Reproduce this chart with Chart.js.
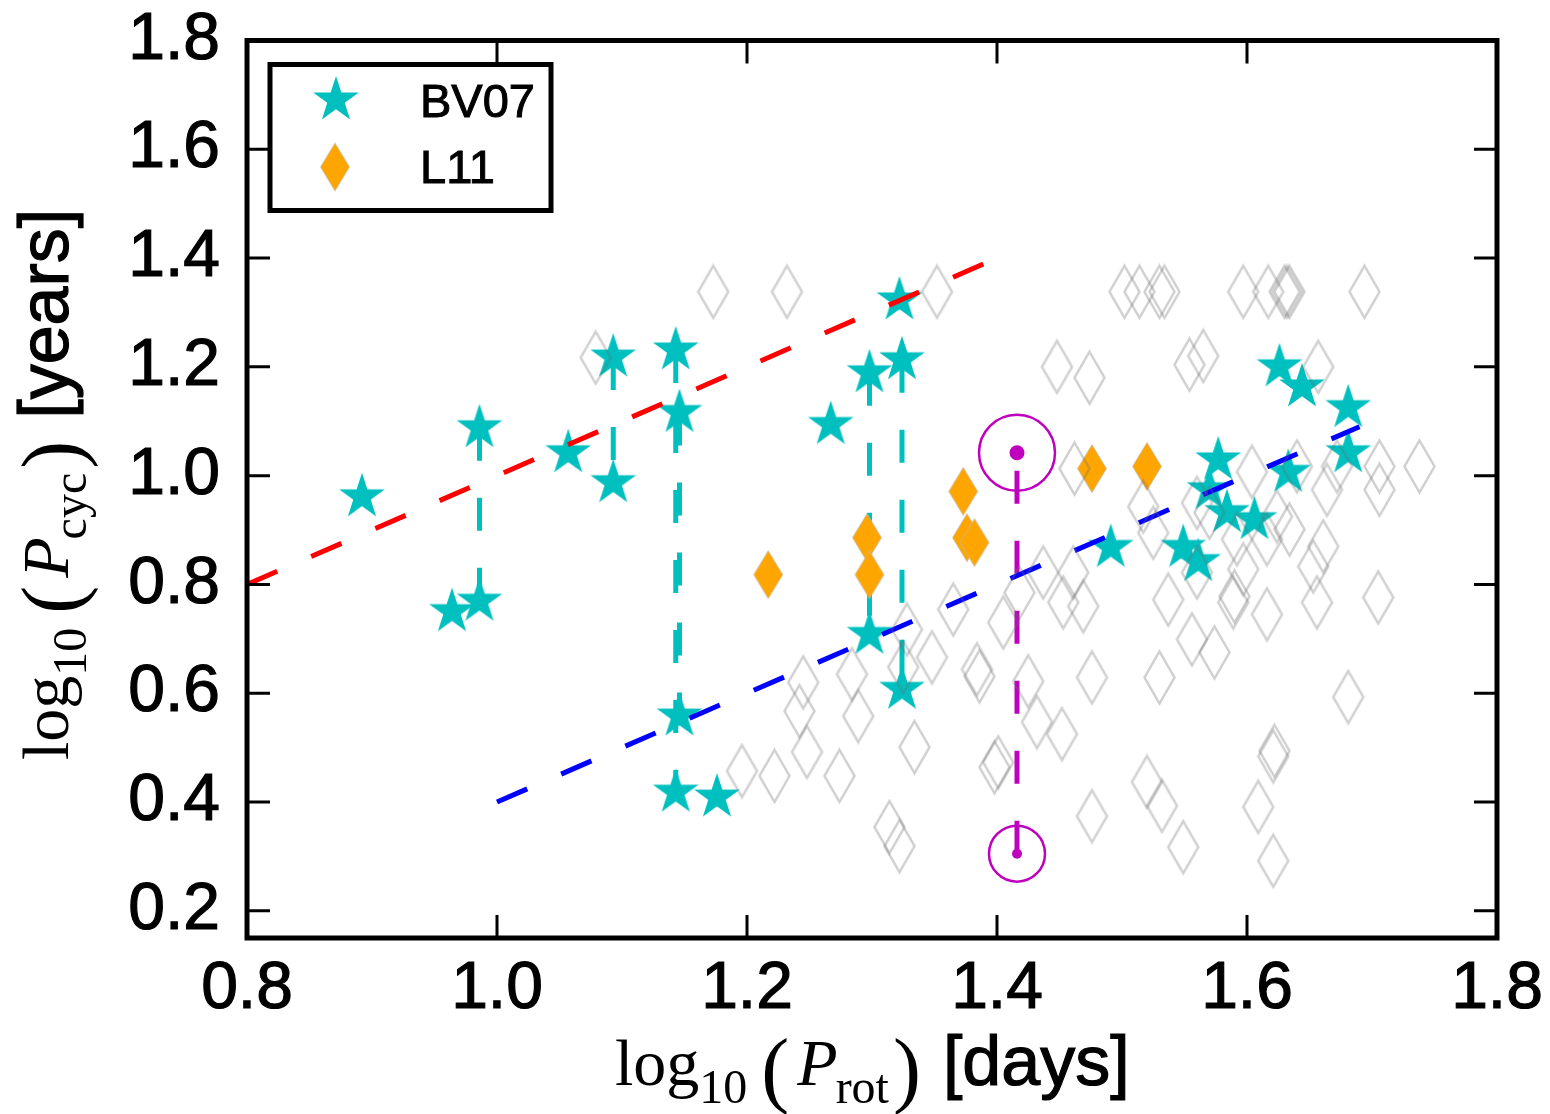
<!DOCTYPE html>
<html>
<head>
<meta charset="utf-8">
<script src="https://cdn.jsdelivr.net/npm/chart.js@4.4.1/dist/chart.umd.min.js"></script>
<style>
html, body { margin: 0; padding: 0; background: #fff; }
#wrap { width: 1550px; height: 1114px; }
</style>
</head>
<body>
<div id="wrap"><canvas id="chart" width="1550" height="1114"></canvas></div>
<script>
// ticks
const xTickValues = [0.8, 1.0, 1.2, 1.4, 1.6, 1.8];
const xTickLabels = ['0.8', '1.0', '1.2', '1.4', '1.6', '1.8'];
const yTickValues = [0.2, 0.4, 0.6, 0.8, 1.0, 1.2, 1.4, 1.6, 1.8];
const yTickLabels = ['0.2', '0.4', '0.6', '0.8', '1.0', '1.2', '1.4', '1.6', '1.8'];
const legendLabels = ['BV07', 'L11'];

// BV07 stars
const bv07X = [0.892, 0.986, 0.964, 0.986, 1.057, 1.093, 1.093, 1.143, 1.146, 1.146,
               1.143, 1.176, 1.267, 1.298, 1.324, 1.322, 1.298, 1.324, 1.491, 1.549,
               1.561, 1.577, 1.570, 1.584, 1.606, 1.626, 1.644, 1.681, 1.681, 1.633];
const bv07Y = [0.961, 1.088, 0.750, 0.769, 1.042, 1.218, 0.987, 1.231, 1.116, 0.558,
               0.418, 0.409, 1.094, 1.189, 1.213, 1.323, 0.708, 0.607, 0.868, 0.868,
               0.842, 1.029, 0.974, 0.932, 0.919, 1.200, 1.163, 1.125, 1.042, 1.006];

// stars with two cycles, joined by dashed lines
const pairX      = [0.986, 1.093, 1.143, 1.146, 1.298, 1.324];
const pairTop    = [1.088, 1.218, 1.231, 1.116, 1.189, 1.213];
const pairBottom = [0.769, 0.987, 0.418, 0.558, 0.708, 0.607];

// L11 diamonds
const l11X = [1.217, 1.296, 1.298, 1.373, 1.376, 1.382, 1.476, 1.520];
const l11Y = [0.818, 0.886, 0.818, 0.971, 0.886, 0.877, 1.013, 1.017];

// background sample (open grey diamonds)
const grayX = [1.173, 1.232, 1.352, 1.502, 1.514, 1.530, 1.534, 1.597, 1.617, 1.630, 1.632, 1.634, 1.694,
               1.079, 1.448, 1.474, 1.554, 1.565, 1.657,
               1.462, 1.604, 1.640, 1.672, 1.706, 1.738, 1.664, 1.706,
               1.517, 1.525, 1.560, 1.570, 1.592, 1.616, 1.634, 1.661, 1.653, 1.597, 1.560, 1.624,
               1.365, 1.418, 1.405, 1.437, 1.461, 1.453, 1.469, 1.537, 1.590, 1.589, 1.616, 1.656, 1.705, 1.556, 1.574,
               1.384, 1.386, 1.425, 1.476, 1.530, 1.681, 1.348,
               1.432, 1.452, 1.398, 1.401, 1.476, 1.520, 1.532, 1.549, 1.622, 1.621, 1.609, 1.621,
               1.245, 1.242, 1.248, 1.196, 1.222, 1.274, 1.284, 1.289, 1.328, 1.325, 1.334, 1.314, 1.322];
const grayY = [1.338, 1.338, 1.338, 1.338, 1.338, 1.338, 1.338, 1.338, 1.338, 1.338, 1.338, 1.338, 1.338,
               1.217, 1.200, 1.180, 1.204, 1.220, 1.200,
               1.013, 1.007, 1.017, 1.017, 1.017, 1.017, 0.974, 0.974,
               0.943, 0.895, 0.950, 0.932, 0.883, 0.883, 0.901, 0.870, 0.833, 0.828, 0.822, 0.925,
               0.754, 0.785, 0.730, 0.822, 0.822, 0.767, 0.760, 0.772, 0.778, 0.767, 0.745, 0.767, 0.776, 0.699, 0.675,
               0.644, 0.631, 0.622, 0.629, 0.629, 0.593, 0.666,
               0.547, 0.525, 0.464, 0.473, 0.374, 0.437, 0.393, 0.317, 0.494, 0.484, 0.391, 0.292,
               0.620, 0.567, 0.492, 0.457, 0.448, 0.448, 0.635, 0.558, 0.717, 0.648, 0.501, 0.354, 0.319];

// fitted branches
const fitRedX = [0.8, 1.39];
const fitRedY = [0.8, 1.39];
const fitBlueX = [1.0, 1.69];
const fitBlueY = [0.4, 1.09];

// the Sun (two cycles), bottom first
const sunX = [1.416, 1.416];
const sunY = [0.305, 1.042];

const CYAN = '#00BFBF';
const ORANGE = '#FFA500';
const MAGENTA = '#BF00BF';

function pts(xs, ys) {
    return xs.map((x, i) => ({x: x, y: ys[i]}));
}

function makeStar(R, color) {
    const c = document.createElement('canvas');
    const s = Math.ceil(2 * R + 4);
    c.width = s; c.height = s;
    const g = c.getContext('2d');
    g.translate(s / 2, s / 2);
    g.beginPath();
    for (let i = 0; i < 10; i++) {
        const r = (i % 2) ? R * 0.382 : R;
        const a = -Math.PI / 2 + i * Math.PI / 5;
        g.lineTo(r * Math.cos(a), r * Math.sin(a));
    }
    g.closePath();
    g.fillStyle = color;
    g.fill();
    return c;
}

function makeDiamond(w, h, fill, stroke, lw) {
    const c = document.createElement('canvas');
    c.width = Math.ceil(w + lw + 2); c.height = Math.ceil(h + lw + 2);
    const g = c.getContext('2d');
    g.translate(c.width / 2, c.height / 2);
    g.beginPath();
    g.moveTo(0, -h / 2); g.lineTo(w / 2, 0); g.lineTo(0, h / 2); g.lineTo(-w / 2, 0);
    g.closePath();
    if (fill) { g.fillStyle = fill; g.fill(); }
    if (stroke) { g.strokeStyle = stroke; g.lineWidth = lw; g.stroke(); }
    return c;
}

const starImg = makeStar(24, CYAN);
const orangeImg = makeDiamond(29, 48, ORANGE, 'rgba(190,190,190,0.7)', 1);
const grayImg = makeDiamond(30, 52, null, 'rgba(110,110,110,0.32)', 2.5);

let datasets = [];
datasets.push({
    label: 'sample', data: pts(grayX, grayY), pointStyle: grayImg, order: 1
});
datasets.push({
    label: 'fitRed', data: pts(fitRedX, fitRedY), showLine: true, borderColor: '#FF0000',
    borderWidth: 5, borderDash: [33, 37], pointRadius: 0, order: 2
});
datasets.push({
    label: 'fitBlue', data: pts(fitBlueX, fitBlueY), showLine: true, borderColor: '#0000FF',
    borderWidth: 5, borderDash: [33, 37], pointRadius: 0, order: 2
});
datasets.push({
    label: 'sunLine', data: pts(sunX, sunY), showLine: true, borderColor: MAGENTA,
    borderWidth: 5, borderDash: [33, 37], pointRadius: 0, order: 3
});
datasets.push({
    label: 'sunRing', data: pts(sunX, sunY), pointStyle: 'circle', pointRadius: [28, 38],
    backgroundColor: 'rgba(0,0,0,0)', borderColor: MAGENTA, pointBorderWidth: 2.5, order: 3
});
datasets.push({
    label: 'sunDot', data: pts(sunX, sunY), pointStyle: 'circle', pointRadius: [5, 7.5],
    backgroundColor: MAGENTA, borderColor: MAGENTA, pointBorderWidth: 0, order: 3
});
datasets.push({
    label: legendLabels[1], data: pts(l11X, l11Y), pointStyle: orangeImg, order: 4
});
datasets.push({
    label: legendLabels[0], data: pts(bv07X, bv07Y), pointStyle: starImg, order: 5
});
for (let i = 0; i < pairX.length; i++) {
    datasets.push({
        label: 'pair' + i,
        data: [{x: pairX[i], y: pairTop[i]}, {x: pairX[i], y: pairBottom[i]}],
        showLine: true, borderColor: CYAN, borderWidth: 5, borderDash: [33, 37],
        pointRadius: 0, order: 6
    });
}

// box, inward ticks on all four sides, legend
const framePlugin = {
    id: 'frame',
    afterDatasetsDraw(chart) {
        const ctx = chart.ctx;
        const a = chart.chartArea;
        const sx = chart.scales.x, sy = chart.scales.y;
        ctx.save();
        ctx.strokeStyle = '#000';
        ctx.lineWidth = 3;
        const tl = 23;
        ctx.beginPath();
        for (const v of xTickValues) {
            const px = sx.getPixelForValue(v);
            ctx.moveTo(px, a.bottom); ctx.lineTo(px, a.bottom - tl);
            ctx.moveTo(px, a.top); ctx.lineTo(px, a.top + tl);
        }
        for (const v of yTickValues) {
            const py = sy.getPixelForValue(v);
            ctx.moveTo(a.left, py); ctx.lineTo(a.left + tl, py);
            ctx.moveTo(a.right, py); ctx.lineTo(a.right - tl, py);
        }
        ctx.stroke();
        ctx.lineWidth = 5;
        ctx.strokeRect(a.left, a.top, a.right - a.left, a.bottom - a.top);

        // legend box
        ctx.fillStyle = '#fff';
        ctx.fillRect(270, 64.5, 281, 146);
        ctx.lineWidth = 5;
        ctx.strokeRect(270, 64.5, 281, 146);
        ctx.drawImage(starImg, 336 - starImg.width / 2, 100 - starImg.height / 2);
        ctx.drawImage(orangeImg, 335 - orangeImg.width / 2, 167 - orangeImg.height / 2);
        ctx.fillStyle = '#000';
        ctx.font = "47px 'Liberation Sans'";
        ctx.textBaseline = 'alphabetic';
        ctx.lineWidth = 1;
        for (const [i, yb] of [[0, 117], [1, 183]]) {
            ctx.fillText(legendLabels[i], 420, yb);
            ctx.strokeText(legendLabels[i], 420, yb);
        }
        ctx.restore();
    }
};

// mathtext-like axis titles
function drawMath(ctx, x0, y0, rot, parts) {
    ctx.save();
    ctx.translate(x0, y0);
    ctx.rotate(rot);
    ctx.fillStyle = '#000';
    ctx.strokeStyle = '#000';
    ctx.lineWidth = 1.2;
    ctx.textBaseline = 'alphabetic';
    let x = 0;
    for (const p of parts) {
        ctx.font = p.font;
        x += (p.dx || 0);
        ctx.fillText(p.t, x, p.dy || 0);
        if (p.bold) ctx.strokeText(p.t, x, p.dy || 0);
        x += ctx.measureText(p.t).width;
    }
    ctx.restore();
}

function titleParts(sub, unit) {
    const serif = "'Liberation Serif'";
    return [
        {t: 'log', font: '66px ' + serif},
        {t: '10', font: '48px ' + serif, dy: 18},
        {t: '(', font: '84px ' + serif, dy: 12, dx: 14},
        {t: 'P', font: 'italic 66px ' + serif, dx: 8},
        {t: sub, font: '48px ' + serif, dy: 18, dx: -2},
        {t: ')', font: '84px ' + serif, dy: 12, dx: 4},
        {t: unit, font: "70px 'Liberation Sans'", dx: 22, bold: true}
    ];
}

const titlePlugin = {
    id: 'titles',
    afterDraw(chart) {
        const ctx = chart.ctx;
        drawMath(ctx, 615, 1085, 0, titleParts('rot', '[days]'));
        drawMath(ctx, 68, 760, -Math.PI / 2, titleParts('cyc', '[years]'));
    }
};

const tickFont = {family: 'Liberation Sans', size: 66};

new Chart(document.getElementById('chart'), {
    type: 'scatter',
    data: {datasets: datasets},
    options: {
        responsive: false,
        animation: false,
        devicePixelRatio: 1,
        events: [],
        layout: {padding: {left: 0, top: 40, right: 53, bottom: 0}},
        plugins: {legend: {display: false}, tooltip: {enabled: false}},
        scales: {
            x: {
                type: 'linear', min: 0.8, max: 1.8,
                grid: {display: false, drawTicks: false},
                border: {display: false},
                afterBuildTicks: s => { s.ticks = xTickValues.map(v => ({value: v})); },
                afterFit: s => { s.height = 176; s.paddingLeft = 0; s.paddingRight = 0; },
                ticks: {font: tickFont, color: '#000', padding: 12, maxRotation: 0, autoSkip: false,
                        textStrokeColor: '#000', textStrokeWidth: 1.2,
                        callback: (v, i) => xTickLabels[i]}
            },
            y: {
                type: 'linear', min: 0.15, max: 1.8,
                grid: {display: false, drawTicks: false},
                border: {display: false},
                afterBuildTicks: s => { s.ticks = yTickValues.map(v => ({value: v})); },
                afterFit: s => { s.width = 247; s.paddingTop = 0; s.paddingBottom = 0; },
                ticks: {font: tickFont, color: '#000', padding: 27, autoSkip: false,
                        textStrokeColor: '#000', textStrokeWidth: 1.2,
                        callback: (v, i) => yTickLabels[i]}
            }
        }
    },
    plugins: [framePlugin, titlePlugin]
});
</script>
</body>
</html>
